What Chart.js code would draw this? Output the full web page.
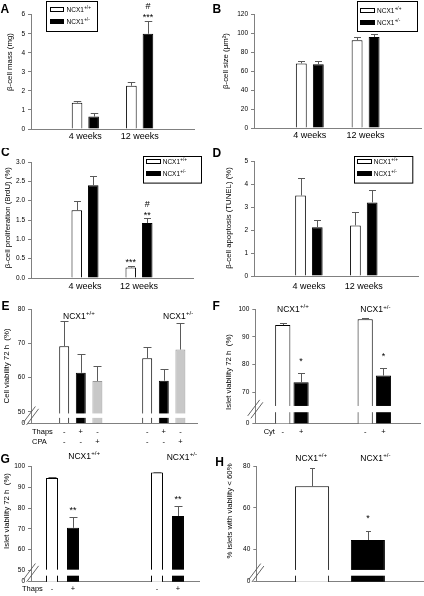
<!DOCTYPE html>
<html>
<head>
<meta charset="utf-8">
<title>NCX1 beta-cell figure</title>
<style>
  html, body { margin: 0; padding: 0; background: #fff; }
  body { width: 424px; height: 596px; position: relative; overflow: hidden; }
  canvas { position: absolute; }
</style>
</head>
<body>
<canvas id="cA" width="212" height="148" style="left:0;top:0"></canvas>
<canvas id="cB" width="212" height="148" style="left:212px;top:0"></canvas>
<canvas id="cC" width="212" height="148" style="left:0;top:148px"></canvas>
<canvas id="cD" width="212" height="148" style="left:212px;top:148px"></canvas>
<canvas id="cE" width="212" height="150" style="left:0;top:298px"></canvas>
<canvas id="cF" width="212" height="150" style="left:212px;top:298px"></canvas>
<canvas id="cG" width="212" height="150" style="left:0;top:446px"></canvas>
<canvas id="cH" width="212" height="150" style="left:212px;top:446px"></canvas>

<script src="https://cdn.jsdelivr.net/npm/chart.js"></script>
<script>
const FONT = "'Liberation Sans', Arial, Helvetica, sans-serif";
const AXIS = '#808080';
const ERR = '#5a5a5a';
Chart.defaults.font.family = FONT;
Chart.defaults.color = '#000';

// ---- data ----
const weeks = ['4 weeks', '12 weeks'];
const genotypes = ['NCX1+/+', 'NCX1+/-'];

// A  beta-cell mass (mg)
const massWT = [1.38, 2.27], massWTSem = [0.09, 0.20];
const massKO = [0.65, 5.00], massKOSem = [0.20, 0.68];
const massKOMarks = [[], ['***', '#']];

// B  beta-cell size (um2)
const sizeWT = [68, 92.5], sizeWTSem = [2.5, 2.9];
const sizeKO = [67, 95.7], sizeKOSem = [3.5, 2.8];

// C  proliferation (BrdU) %
const brduWT = [1.75, 0.27], brduWTSem = [0.25, 0.05];
const brduKO = [2.40, 1.42], brduKOSem = [0.25, 0.13];
const brduWTMarks = [[], ['***']];
const brduKOMarks = [[], ['**', '#']];

// D  apoptosis (TUNEL) %
const tunelWT = [3.5, 2.2], tunelWTSem = [0.75, 0.6];
const tunelKO = [2.12, 3.2], tunelKOSem = [0.3, 0.52];

// E  cell viability 72 h
const eThaps = ['-', '+', '-', '-', '+', '-'];
const eCpa   = ['-', '-', '+', '-', '-', '+'];
const eViab  = [69.2, 61.4, 59.0, 65.7, 59.1, 68.2];
const eSem   = [7.3, 5.6, 4.5, 3.3, 3.4, 7.8];
const eTicks = [50, 60, 70, 80];

// F  islet viability, cytokines
const fCyt  = ['-', '+', '-', '+'];
const fViab = [94.2, 73.6, 96.3, 76.0];
const fSem  = [0.6, 3.2, 0.4, 2.7];
const fMarks = [[], ['*'], [], ['*']];
const fTicks = [70, 80, 90, 100];

// G  islet viability, thapsigargin
const gThaps = ['-', '+', '-', '+'];
const gViab  = [94.5, 70.5, 97.2, 76.2];
const gSem   = [0.7, 5.3, 0.4, 5.0];
const gMarks = [[], ['**'], [], ['**']];
const gTicks = [50, 60, 70, 80, 90, 100];

// H  % islets with viability < 60%
const hIslets = [70.5, 44.5];
const hSem    = [9.0, 4.5];
const hMarks  = [[], ['*']];
const hTicks  = [40, 60, 80];

// ---- helpers ----
function spread(vals, slots, n, fill) {
  const out = Array(n).fill(fill);
  slots.forEach((s, i) => { out[s] = vals[i]; });
  return out;
}

function drawLabel(ctx, text, x, y, size) {
  const m = text.match(/^(NCX1)(.*)$/);
  const base = m ? m[1] : text, sup = m ? m[2] : '';
  ctx.textAlign = 'left';
  ctx.textBaseline = 'alphabetic';
  ctx.font = size + 'px ' + FONT;
  const wb = ctx.measureText(base).width;
  ctx.fillText(base, x, y);
  ctx.font = (size * 0.72) + 'px ' + FONT;
  ctx.fillText(sup, x + wb + 0.3, y - size * 0.42);
}

function decor(o) {
  return {
    id: 'decor',
    afterDatasetsDraw(chart) {
      const ctx = chart.ctx, a = chart.chartArea, ys = chart.scales.y;
      ctx.save();
      if (o.brk) {
        const t = ys.getPixelForValue(o.brk[1]), b = ys.getPixelForValue(o.brk[0]);
        ctx.fillStyle = '#fff';
        ctx.fillRect(a.left + 1, t, a.right - a.left - 1, b - t);
        const cx = a.left, cy = (t + b) / 2;
        ctx.strokeStyle = '#555';
        ctx.lineWidth = 0.9;
        [-1, 1].forEach(k => {
          ctx.beginPath();
          ctx.moveTo(cx + k * 1.6 - 6, cy + k * 1.2 + 8);
          ctx.lineTo(cx + k * 1.6 + 6, cy + k * 1.2 - 8);
          ctx.stroke();
        });
      }
      // error bars + significance marks
      ctx.strokeStyle = ERR;
      ctx.lineWidth = 1;
      ctx.fillStyle = '#000';
      ctx.textAlign = 'center';
      ctx.textBaseline = 'alphabetic';
      ctx.font = '9px ' + FONT;
      chart.data.datasets.forEach((ds, i) => {
        chart.getDatasetMeta(i).data.forEach((bar, j) => {
          const v = ds.data[j];
          if (v == null) return;
          const x = Math.round(bar.x) + 0.5;
          const top = ys.getPixelForValue(v + ds.sem[j]);
          const ty = Math.round(top) + 0.5;
          ctx.beginPath();
          ctx.moveTo(x, bar.y);
          ctx.lineTo(x, ty);
          ctx.moveTo(x - o.cap / 2, ty);
          ctx.lineTo(x + o.cap / 2, ty);
          ctx.stroke();
          const marks = ds.marks ? ds.marks[j] : null;
          (marks || []).forEach((mk, k) => ctx.fillText(mk, bar.x, top - o.gap - k * 10.5));
        });
      });
      ctx.restore();
    },
    afterDraw(chart) {
      const ctx = chart.ctx;
      ctx.save();
      ctx.fillStyle = '#000';
      // panel letter
      ctx.font = 'bold 12px ' + FONT;
      ctx.textAlign = 'left';
      ctx.textBaseline = 'alphabetic';
      ctx.fillText(o.letter.t, o.letter.x, o.letter.y);
      // y axis title
      ctx.save();
      ctx.translate(o.title.x, o.title.y);
      ctx.rotate(-Math.PI / 2);
      ctx.font = '7.8px ' + FONT;
      ctx.textAlign = 'center';
      ctx.textBaseline = 'middle';
      ctx.fillText(o.title.t, 0, 0);
      ctx.restore();
      // legend
      if (o.legend) {
        const L = o.legend;
        ctx.strokeStyle = '#000';
        ctx.lineWidth = 1;
        ctx.strokeRect(Math.round(L.x) + 0.5, Math.round(L.y) + 0.5, L.w, L.h);
        chart.data.datasets.forEach((ds, i) => {
          const cy = L.rows[i];
          const sx = Math.round(L.x + L.sx), sy = Math.round(cy - 2.5);
          ctx.fillStyle = ds.backgroundColor;
          ctx.fillRect(sx, sy, L.sw, 5);
          ctx.strokeRect(sx + 0.5, sy + 0.5, L.sw - 1, 4);
          ctx.fillStyle = '#000';
          drawLabel(ctx, ds.label, L.x + L.tx, cy + 2.4, 6.5);
        });
      }
      // genotype headings
      (o.heads || []).forEach(h => drawLabel(ctx, h.t, h.x, h.y, 8.5));
      // row headers for treatment rows
      ctx.font = '7.5px ' + FONT;
      ctx.textAlign = 'left';
      ctx.textBaseline = 'middle';
      (o.rows || []).forEach(r => ctx.fillText(r.t, r.x, r.y));
      ctx.restore();
    }
  };
}

function baseOptions(o) {
  const yMin = o.min;
  return {
    responsive: false,
    animation: false,
    events: [],
    layout: { padding: { left: 0, top: o.top, right: o.right, bottom: 0 } },
    plugins: { legend: { display: false }, tooltip: { enabled: false } },
    scales: {
      x: {
        type: 'category',
        offset: false,
        grid: { display: false, drawTicks: false },
        border: { color: AXIS },
        ticks: {
          display: o.xTicks !== false, autoSkip: false, maxRotation: 0, minRotation: 0,
          padding: o.xPad, color: '#000', font: { size: o.xFont, lineHeight: o.xLh + 'px' }
        },
        afterFit: s => { s.height = o.xH; }
      },
      y: {
        min: o.min,
        max: o.max,
        grid: { drawOnChartArea: false, drawTicks: true, tickLength: 3, color: AXIS },
        border: { color: AXIS },
        ticks: {
          stepSize: o.step, padding: 3, color: '#000', font: { size: 6.5 },
          callback: o.fmt || (o.ticks ? (v => v === yMin ? '0' : v) : (v => v))
        },
        afterFit: s => { s.width = o.yW; },
        afterBuildTicks: s => {
          if (o.ticks) s.ticks = [yMin, ...o.ticks].map(value => ({ value }));
        }
      }
    }
  };
}

function groupedChart(id, o) {
  const pad = v => v ? [null, ...v, null] : null;
  const datasets = o.series.map(s => ({
    label: s.label,
    data: pad(s.data),
    sem: pad(s.sem),
    marks: pad(s.marks),
    backgroundColor: s.color,
    borderColor: '#000',
    borderWidth: 1,
    categoryPercentage: 0.61,
    barPercentage: 0.64
  }));
  new Chart(document.getElementById(id), {
    type: 'bar',
    data: { labels: ['', ...weeks, ''], datasets },
    options: baseOptions(o),
    plugins: [decor(o)]
  });
}

function slotChart(id, o) {
  const n = o.n;
  new Chart(document.getElementById(id), {
    type: 'bar',
    data: {
      labels: spread(o.labels, o.slots, n, ''),
      datasets: [{
        label: o.name,
        data: spread(o.values, o.slots, n, null),
        sem: spread(o.sem, o.slots, n, null),
        marks: o.marks ? spread(o.marks, o.slots, n, null) : null,
        backgroundColor: spread(o.colors, o.slots, n, 'transparent'),
        borderColor: spread(o.colors.map(c => c === GRAY ? '#999' : '#000'), o.slots, n, 'transparent'),
        borderWidth: 1,
        categoryPercentage: 1,
        barPercentage: o.bar
      }]
    },
    options: baseOptions(o),
    plugins: [decor(o)]
  });
}

const WHITE = '#ffffff', BLACK = '#000000', GRAY = '#c8c8c8';

// ---- panels ----
groupedChart('cA', {
  series: [
    { label: genotypes[0], data: massWT, sem: massWTSem, color: WHITE },
    { label: genotypes[1], data: massKO, sem: massKOSem, marks: massKOMarks, color: BLACK }
  ],
  min: 0, max: 6, step: 1, yW: 31, top: 14.7, right: 18, xH: 19, xPad: 2.6, xFont: 9, xLh: 10.8,
  title: { t: 'β-cell mass (mg)', x: 9.5, y: 62 }, letter: { t: 'A', x: 0.5, y: 13.3 },
  legend: { x: 46, y: 1, w: 51, h: 30, sx: 4, sw: 14, tx: 20.5, rows: [9.7, 21.7] },
  cap: 7.5, gap: 1
});

groupedChart('cB', {
  series: [
    { label: genotypes[0], data: sizeWT, sem: sizeWTSem, color: WHITE },
    { label: genotypes[1], data: sizeKO, sem: sizeKOSem, color: BLACK }
  ],
  min: 0, max: 120, step: 20, yW: 42, top: 14, right: 2, xH: 20, xPad: 2.6, xFont: 9, xLh: 10.8,
  title: { t: 'β-cell size (μm²)', x: 14, y: 61 }, letter: { t: 'B', x: 0.5, y: 13.3 },
  legend: { x: 145, y: 1, w: 60, h: 30, sx: 3, sw: 15, tx: 20, rows: [10.8, 22.5] },
  cap: 7, gap: 1
});

groupedChart('cC', {
  series: [
    { label: genotypes[0], data: brduWT, sem: brduWTSem, marks: brduWTMarks, color: WHITE },
    { label: genotypes[1], data: brduKO, sem: brduKOSem, marks: brduKOMarks, color: BLACK }
  ],
  min: 0, max: 3, step: 0.5, fmt: v => v.toFixed(1), yW: 31, top: 14, right: 19, xH: 18, xPad: 3.3, xFont: 9, xLh: 10.8,
  title: { t: 'β-cell proliferation (BrdU) (%)', x: 7.7, y: 69.6 }, letter: { t: 'C', x: 1, y: 7.5 },
  legend: { x: 142.7, y: 7.7, w: 58, h: 26.6, sx: 3.3, sw: 15, tx: 20, rows: [13.7, 25.8] },
  cap: 7, gap: 0.5
});

groupedChart('cD', {
  series: [
    { label: genotypes[0], data: tunelWT, sem: tunelWTSem, color: WHITE },
    { label: genotypes[1], data: tunelKO, sem: tunelKOSem, color: BLACK }
  ],
  min: 0, max: 5, step: 1, yW: 42, top: 13, right: 2, xH: 20, xPad: 5.3, xFont: 9, xLh: 10.8,
  title: { t: 'β-cell apoptosis (TUNEL) (%)', x: 16.7, y: 70 }, letter: { t: 'D', x: 0.5, y: 8.7 },
  legend: { x: 141.7, y: 7.7, w: 58.3, h: 26.6, sx: 3.3, sw: 15, tx: 20, rows: [13.7, 25.8] },
  cap: 7, gap: 1
});

slotChart('cE', {
  name: 'Cell viability', n: 11, slots: [2, 3, 4, 7, 8, 9], bar: 0.6,
  values: eViab, sem: eSem,
  labels: eThaps.map((t, i) => [t, eCpa[i]]),
  colors: eThaps.map((t, i) => t === '+' ? BLACK : (eCpa[i] === '+' ? GRAY : WHITE)),
  min: 46.7, max: 80, ticks: eTicks, brk: [48.2, 49.5],
  yW: 31, top: 11.3, right: 15, xH: 25, xPad: 4, xFont: 7.5, xLh: 10,
  title: { t: 'Cell viability 72 h  (%)', x: 7.2, y: 68 }, letter: { t: 'E', x: 1.5, y: 12 },
  heads: [{ t: genotypes[0], x: 63, y: 21 }, { t: genotypes[1], x: 163, y: 20.5 }],
  rows: [{ t: 'Thaps', x: 32, y: 134 }, { t: 'CPA', x: 32, y: 144 }],
  cap: 8, gap: 2
});

slotChart('cF', {
  name: 'Islet viability', n: 19, slots: [3, 5, 12, 14], bar: 1.66,
  values: fViab, sem: fSem, marks: fMarks, labels: fCyt,
  colors: fCyt.map(t => t === '+' ? BLACK : WHITE),
  min: 58.8, max: 100, ticks: fTicks, brk: [62.8, 65.05],
  yW: 43.3, top: 11, right: 1, xH: 24.7, xPad: 3.9, xFont: 7.5, xLh: 9,
  title: { t: 'Islet viability 72 h  (%)', x: 17.2, y: 74 }, letter: { t: 'F', x: 0.5, y: 12 },
  heads: [{ t: genotypes[0], x: 65, y: 13.7 }, { t: genotypes[1], x: 148.3, y: 14.3 }],
  rows: [{ t: 'Cyt', x: 51.7, y: 133.7 }],
  cap: 7, gap: 9
});

slotChart('cG', {
  name: 'Islet viability', n: 17, slots: [2, 4, 12, 14], bar: 1.14,
  values: gViab, sem: gSem, marks: gMarks, labels: gThaps,
  colors: gThaps.map(t => t === '+' ? BLACK : WHITE),
  min: 44.5, max: 100, ticks: gTicks, brk: [47.4, 50.3],
  yW: 31, top: 20.7, right: 13, xH: 14.3, xPad: 2.8, xFont: 7.5, xLh: 9,
  title: { t: 'Islet viability 72 h  (%)', x: 7.2, y: 65 }, letter: { t: 'G', x: 0.5, y: 16.7 },
  heads: [{ t: genotypes[0], x: 68.3, y: 12.7 }, { t: genotypes[1], x: 166.7, y: 14 }],
  rows: [{ t: 'Thaps', x: 22, y: 143 }],
  cap: 8, gap: 4
});

slotChart('cH', {
  name: '% islets', n: 4, slots: [1, 2], bar: 0.61,
  values: hIslets, sem: hSem, marks: hMarks, labels: genotypes,
  colors: [WHITE, BLACK], xTicks: false,
  min: 24.3, max: 80, ticks: hTicks, brk: [27.2, 30],
  yW: 44.3, top: 20.7, right: 0.3, xH: 14.3, xPad: 3, xFont: 7.5, xLh: 9,
  title: { t: '% islets with viability < 60%', x: 18, y: 65 }, letter: { t: 'H', x: 3.3, y: 20 },
  heads: [{ t: genotypes[0], x: 83.3, y: 15 }, { t: genotypes[1], x: 148.3, y: 15 }],
  cap: 5, gap: 9.5
});
</script>
</body>
</html>
